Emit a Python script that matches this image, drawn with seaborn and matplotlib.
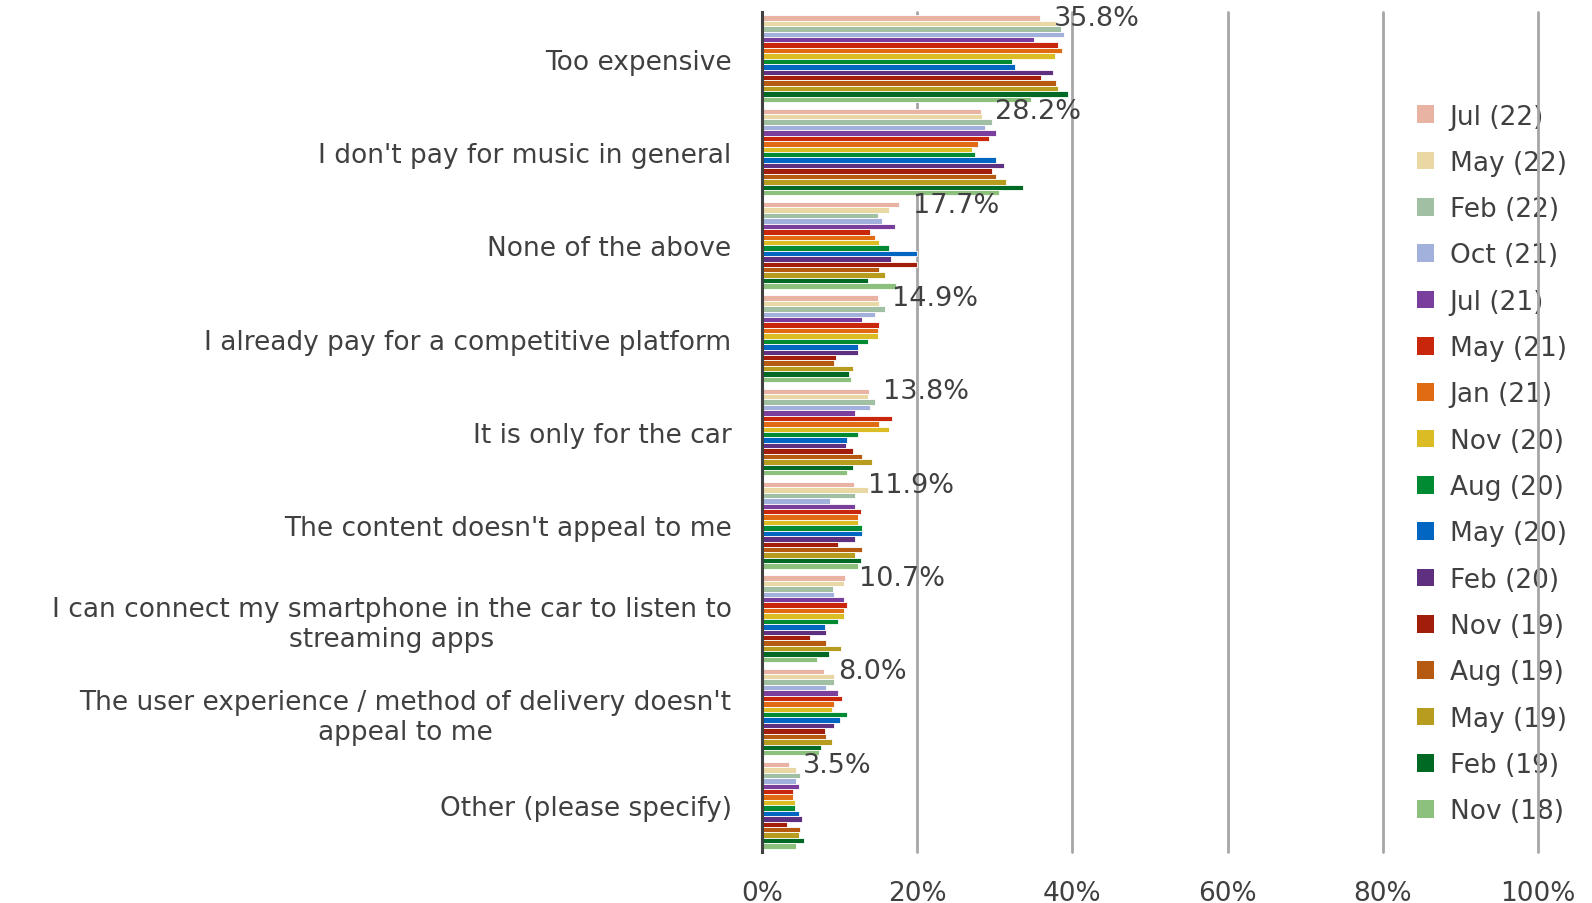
import numpy as np
import pandas as pd
import matplotlib
matplotlib.use("Agg")
import matplotlib.pyplot as plt
import seaborn as sns
from matplotlib.ticker import FuncFormatter

categories = [
    "Too expensive",
    "I don't pay for music in general",
    "None of the above",
    "I already pay for a competitive platform",
    "It is only for the car",
    "The content doesn't appeal to me",
    "I can connect my smartphone in the car to listen to\nstreaming apps",
    "The user experience / method of delivery doesn't\nappeal to me",
    "Other (please specify)",
]

series_names = ["Jul (22)", "May (22)", "Feb (22)", "Oct (21)", "Jul (21)", "May (21)",
                "Jan (21)", "Nov (20)", "Aug (20)", "May (20)", "Feb (20)", "Nov (19)",
                "Aug (19)", "May (19)", "Feb (19)", "Nov (18)"]

jul22 = [35.8, 28.2, 17.7, 14.9, 13.8, 11.9, 10.7, 8.0, 3.5]
may22 = [37.9, 28.3, 16.3, 15.1, 13.7, 13.7, 10.5, 9.3, 4.4]
feb22 = [38.5, 29.7, 14.9, 15.8, 14.6, 12.0, 9.1, 9.3, 4.9]
oct21 = [38.9, 28.7, 15.4, 14.6, 13.9, 8.8, 9.3, 8.3, 4.4]
jul21 = [35.1, 30.2, 17.1, 12.9, 12.0, 12.0, 10.5, 9.8, 4.7]
may21 = [38.2, 29.2, 13.9, 15.1, 16.8, 12.7, 11.0, 10.3, 4.0]
jan21 = [38.7, 27.8, 14.6, 14.9, 15.1, 12.4, 10.5, 9.3, 4.0]
nov20 = [37.7, 27.0, 15.1, 14.9, 16.3, 12.4, 10.5, 9.0, 4.2]
aug20 = [32.2, 27.5, 16.3, 13.7, 12.4, 12.9, 9.8, 11.0, 4.2]
may20 = [32.6, 30.2, 20.0, 12.4, 11.0, 12.9, 8.1, 10.0, 4.7]
feb20 = [37.5, 31.2, 16.6, 12.4, 10.8, 12.0, 8.3, 9.3, 5.2]
nov19 = [36.0, 29.7, 20.0, 9.5, 11.7, 9.8, 6.2, 8.1, 3.2]
aug19 = [37.9, 30.2, 15.1, 9.3, 12.9, 12.9, 8.3, 8.3, 4.9]
may19 = [38.2, 31.4, 15.8, 11.7, 14.2, 12.0, 10.2, 9.0, 4.7]
feb19 = [39.4, 33.6, 13.6, 11.2, 11.7, 12.7, 8.6, 7.6, 5.4]
nov18 = [34.6, 30.5, 17.3, 11.5, 11.0, 12.4, 7.1, 7.4, 4.4]

series_values = [jul22, may22, feb22, oct21, jul21, may21, jan21, nov20,
                 aug20, may20, feb20, nov19, aug19, may19, feb19, nov18]

colors = ["#E8B3A2", "#E9D8A4", "#A1BFA2", "#A1B1DB", "#7A3E9D", "#C9270B",
          "#E06B12", "#DCBC24", "#008A32", "#0066C2", "#5E307F", "#A21E0A",
          "#B65A12", "#B89C1E", "#006A24", "#8CC07D"]

xticks = [0, 20, 40, 60, 80, 100]

rows = []
for name, vals in zip(series_names, series_values):
    for cat, v in zip(categories, vals):
        rows.append({"category": cat, "series": name, "value": v})
df = pd.DataFrame(rows)

sns.set_style("white")
plt.rcParams["font.family"] = ["DejaVu Sans"]
text_color = "#404040"

fig = plt.figure(figsize=(15.92, 9.04), dpi=100)
ax = fig.add_axes([0.4787, 0.0564, 0.4873, 0.9292])

sns.barplot(data=df, y="category", x="value", hue="series", order=categories,
            hue_order=series_names, palette=colors, orient="h", width=0.93,
            dodge=True, edgecolor="white", linewidth=0.6, ax=ax, legend=False,
            errorbar=None, saturation=1)

ax.set_xlim(0, 100)
ax.set_ylim(len(categories) - 0.5, -0.5)
ax.set_xticks(xticks)
ax.xaxis.set_major_formatter(FuncFormatter(lambda x, p: f"{x:.0f}%"))
ax.set_xlabel("")
ax.set_ylabel("")

ax.set_axisbelow(True)
ax.xaxis.grid(True, color="#A6A6A6", linewidth=2)
for gl in ax.get_xgridlines():
    gl.set_clip_on(False)
ax.yaxis.grid(False)
for s in ["top", "right", "bottom"]:
    ax.spines[s].set_visible(False)
ax.spines["left"].set_color("#404040")
ax.spines["left"].set_linewidth(2.2)
ax.spines["left"].set_zorder(5)

ax.tick_params(axis="y", length=0, pad=22, labelsize=19, labelcolor=text_color)
ax.tick_params(axis="x", length=0, pad=20, labelsize=19, labelcolor=text_color)
for lab in ax.get_yticklabels():
    lab.set_multialignment("center")

# value labels for the latest wave
first = ax.containers[0]
ax.bar_label(first, labels=[f"{v:.1f}%" for v in jul22], padding=10,
             fontsize=19.5, color=text_color)

handles = [plt.Rectangle((0, 0), 1, 1, facecolor=c, edgecolor="none") for c in colors]
leg = ax.legend(handles, series_names, loc="center left", bbox_to_anchor=(0.813, 0.462),
                frameon=False, fontsize=19, handlelength=0.65, handleheight=0.65,
                handletextpad=0.6, labelspacing=0.77, labelcolor=text_color)
leg.set_zorder(0.4)

fig.savefig("out.png", dpi=100)
